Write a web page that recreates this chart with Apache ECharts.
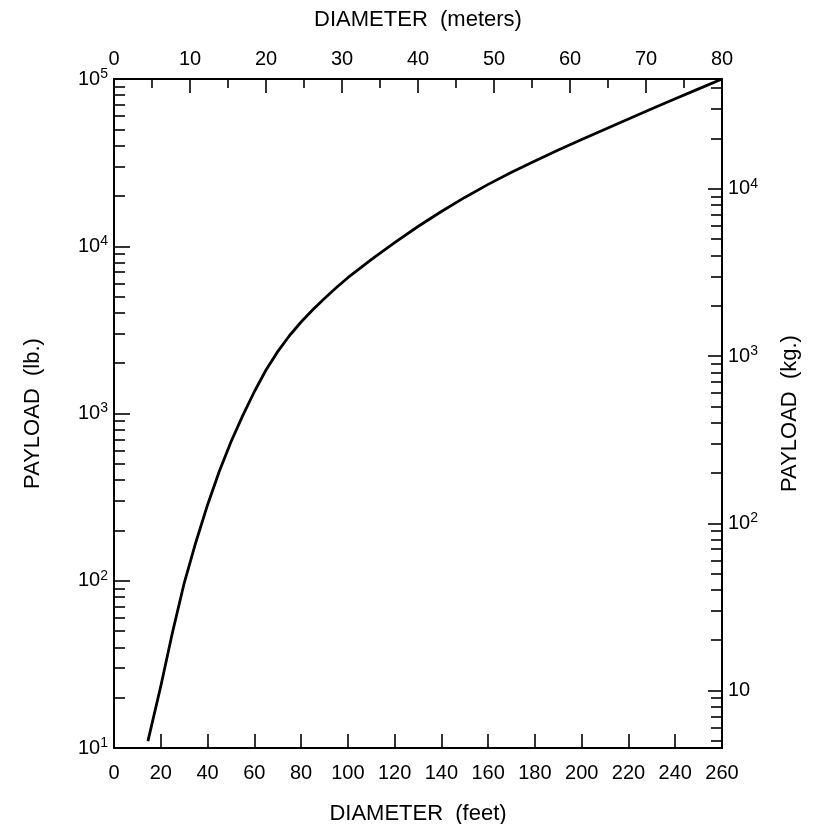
<!DOCTYPE html>
<html><head><meta charset="utf-8">
<script src="https://cdn.jsdelivr.net/npm/echarts@6/dist/echarts.min.js"></script>
<style>html,body{margin:0;padding:0;background:#fff}#c{width:819px;height:824px}</style>
</head><body><div id="c"></div>
<script>
// Curve: diameter (feet) vs payload (lb)
const diameterFt = [14.5, 20, 25, 30, 35, 40, 45, 50, 55, 60, 65, 70, 75, 80, 85, 90, 95, 100, 110, 120, 130, 140, 150, 160, 170, 180, 190, 200, 210, 220, 230, 240, 250, 260];
const payloadLb  = [11, 23.4, 49, 96.6, 170, 284, 450, 675, 968, 1349, 1820, 2344, 2917, 3524, 4169, 4875, 5649, 6486, 8318, 10520, 13120, 16140, 19590, 23440, 27670, 32360, 37580, 43450, 50120, 57680, 66370, 76210, 87300, 100000];

// Axis tick labels
const feetTicks   = [0, 20, 40, 60, 80, 100, 120, 140, 160, 180, 200, 220, 240, 260];
const meterTicks  = [0, 10, 20, 30, 40, 50, 60, 70, 80];
const lbDecades   = [10, 100, 1000, 10000, 100000];
const kgDecades   = [10, 100, 1000, 10000];
const minorMults  = [2, 3, 4, 5, 6, 7, 8, 9];
const LB_PER_KG = 2.20462;

const FONT = 'Liberation Sans';
const BLACK = '#000';

function minorTicks(lo, hi) {
  const out = [];
  for (let d = 1; d <= 100000; d *= 10) {
    for (const m of minorMults) {
      const v = m * d;
      if (v > lo * 1.0001 && v < hi * 0.9999) out.push(v);
    }
  }
  return out;
}

function powLabel(v) {
  const e = Math.round(Math.log10(v));
  return '{b|10}{s|' + e + '}';
}
function powLabelKg(v) {
  const e = Math.round(Math.log10(v));
  if (e === 1) return '{b|10}';
  return '{b|10}{s|' + e + '}';
}
const rich = {
  b: {fontSize: 20, fontFamily: FONT, color: BLACK, lineHeight: 24, verticalAlign: 'middle'},
  s: {fontSize: 14, fontFamily: FONT, color: BLACK, lineHeight: 14, verticalAlign: 'top'}
};

const kgMin = 10 / LB_PER_KG, kgMax = 100000 / LB_PER_KG;
const lineStyle = {color: BLACK, width: 2};
const tickStyle = {color: BLACK, width: 1.6};
const nameStyle = {fontSize: 22, fontFamily: FONT, color: BLACK};

const chart = echarts.init(document.getElementById('c'), null, {renderer: 'canvas'});
chart.setOption({
  animation: false,
  backgroundColor: '#fff',
  grid: {left: 114, right: 97, top: 79, bottom: 76, containLabel: false, outerBoundsMode: 'none'},
  xAxis: [
    {
      type: 'value', position: 'bottom', min: feetTicks[0], max: feetTicks[feetTicks.length - 1], interval: 20,
      axisLine: {lineStyle: lineStyle},
      axisTick: {inside: true, length: 14, lineStyle: tickStyle},
      axisLabel: {color: BLACK, fontSize: 20, fontFamily: FONT, margin: 15, customValues: feetTicks},
      splitLine: {show: false},
      name: 'DIAMETER  (feet)', nameLocation: 'middle', nameGap: 55, nameTextStyle: nameStyle
    },
    {
      type: 'value', position: 'top', min: meterTicks[0], max: meterTicks[meterTicks.length - 1], interval: 10,
      axisLine: {lineStyle: lineStyle},
      axisTick: {inside: true, length: 14, lineStyle: tickStyle},
      minorTick: {show: true, splitNumber: 2, length: 9, lineStyle: tickStyle},
      axisLabel: {color: BLACK, fontSize: 20, fontFamily: FONT, margin: 10, customValues: meterTicks},
      splitLine: {show: false},
      name: 'DIAMETER  (meters)', nameLocation: 'middle', nameGap: 48, nameTextStyle: nameStyle
    }
  ],
  yAxis: [
    {
      type: 'log', logBase: 10, position: 'left', min: 10, max: 100000,
      axisLine: {lineStyle: lineStyle},
      axisTick: {inside: true, length: 16, lineStyle: tickStyle, customValues: lbDecades},
      axisLabel: {margin: 6, formatter: powLabel, rich: rich, customValues: lbDecades},
      splitLine: {show: false}, minorTick: {show: false},
      name: 'PAYLOAD  (lb.)', nameLocation: 'middle', nameGap: 70, nameTextStyle: nameStyle
    },
    {
      type: 'log', logBase: 10, position: 'left', min: 10, max: 100000,
      axisLine: {show: false},
      axisTick: {inside: true, length: 11, lineStyle: tickStyle, customValues: minorTicks(10, 100000)},
      axisLabel: {show: false},
      splitLine: {show: false}
    },
    {
      type: 'log', logBase: 10, position: 'right', min: kgMin, max: kgMax,
      axisLine: {lineStyle: lineStyle},
      axisTick: {inside: true, length: 14, lineStyle: tickStyle, customValues: kgDecades},
      axisLabel: {margin: 6, formatter: powLabelKg, rich: rich, customValues: kgDecades},
      splitLine: {show: false},
      name: 'PAYLOAD  (kg.)', nameLocation: 'middle', nameGap: 57, nameTextStyle: nameStyle
    },
    {
      type: 'log', logBase: 10, position: 'right', min: kgMin, max: kgMax,
      axisLine: {show: false},
      axisTick: {inside: true, length: 11, lineStyle: tickStyle, customValues: minorTicks(kgMin, kgMax)},
      axisLabel: {show: false},
      splitLine: {show: false}
    }
  ],
  series: [{
    type: 'line', xAxisIndex: 0, yAxisIndex: 0,
    data: diameterFt.map((d, i) => [d, payloadLb[i]]),
    showSymbol: false, smooth: false,
    lineStyle: {color: BLACK, width: 2.8, join: 'round'},
    itemStyle: {color: BLACK}
  }]
});
</script>
</body></html>
